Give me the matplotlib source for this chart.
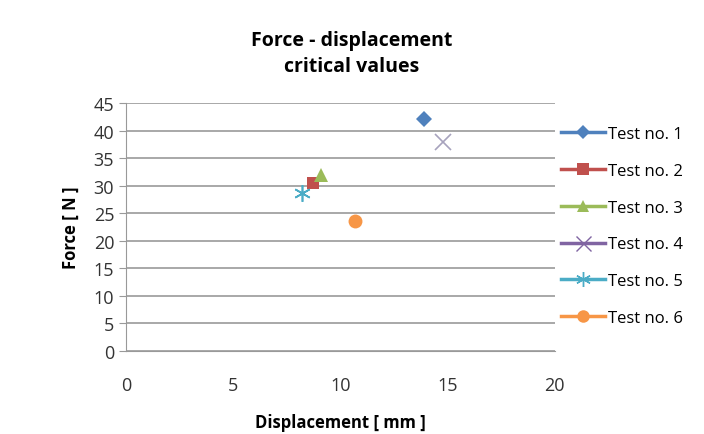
import matplotlib
matplotlib.use("Agg")
import matplotlib.pyplot as plt

plt.rcParams["font.family"] = ["Open Sans", "DejaVu Sans"]

labels = ["Test no. 1", "Test no. 2", "Test no. 3", "Test no. 4", "Test no. 5", "Test no. 6"]
displacement = [13.9, 8.7, 9.1, 14.8, 8.2, 10.7]
force = [42.0, 30.5, 32.0, 38.0, 28.7, 23.5]
colors = ["#4F81BD", "#C0504D", "#9BBB59", "#8064A2", "#4BACC6", "#F79646"]
point_colors = ["#4F81BD", "#C0504D", "#9BBB59", "#A7A3BD", "#4BACC6", "#F79646"]
markers = ["D", "s", "^", "x", (6, 2, 0), "o"]
x_ticks = [0, 5, 10, 15, 20]
y_ticks = [0, 5, 10, 15, 20, 25, 30, 35, 40, 45]


def plot_data():
    fig = plt.figure(figsize=(7.04, 4.35), dpi=100)
    ax = fig.add_axes([0.179, 0.191, 0.609, 0.570])

    sizes = [8, 9, 10, 12, 12, 10]
    for i in range(len(labels)):
        mk = markers[i]
        thin = mk == "x" or isinstance(mk, tuple)
        ax.plot(displacement[i], force[i], linestyle="none", marker=mk,
                markersize=sizes[i], color=point_colors[i],
                markeredgewidth=1.2 if thin else 0, clip_on=False)
        # legend proxy line with marker
        ax.plot([], [], color=colors[i], linewidth=2.5, marker=mk,
                markersize=sizes[i] * 0.9, markeredgewidth=1.0 if thin else 0,
                label=labels[i])

    ax.set_xlim(0, 20)
    ax.set_ylim(0, 45)
    ax.set_xticks(x_ticks)
    ax.set_yticks(y_ticks)
    ax.grid(axis="y", color="#999999", linewidth=1.2)
    ax.set_axisbelow(True)
    for s in ["top", "right"]:
        ax.spines[s].set_visible(False)
    ax.spines["left"].set_color("#999999")
    ax.spines["bottom"].set_color("#999999")
    ax.tick_params(axis="y", length=5, color="#999999", labelsize=13, labelcolor="#333333")
    ax.tick_params(axis="x", length=0, pad=18, labelsize=13, labelcolor="#333333")

    ax.set_xlabel("Displacement [ mm ]", fontsize=12, fontweight="bold", labelpad=14)
    ax.set_ylabel("Force [ N ]", fontsize=12, fontweight="bold", labelpad=10)
    fig.text(0.5, 0.876, "Force - displacement\ncritical values", ha="center", va="center",
             fontsize=14, fontweight="bold", linespacing=1.35)

    ax.legend(loc="center left", bbox_to_anchor=(1.0, 0.504), frameon=False,
              fontsize=12, handlelength=2.6, handletextpad=0.2, labelspacing=1.25,
              borderaxespad=0.0)

    fig.savefig("out.png", dpi=100)


def main():
    plot_data()


if __name__ == "__main__":
    main()
